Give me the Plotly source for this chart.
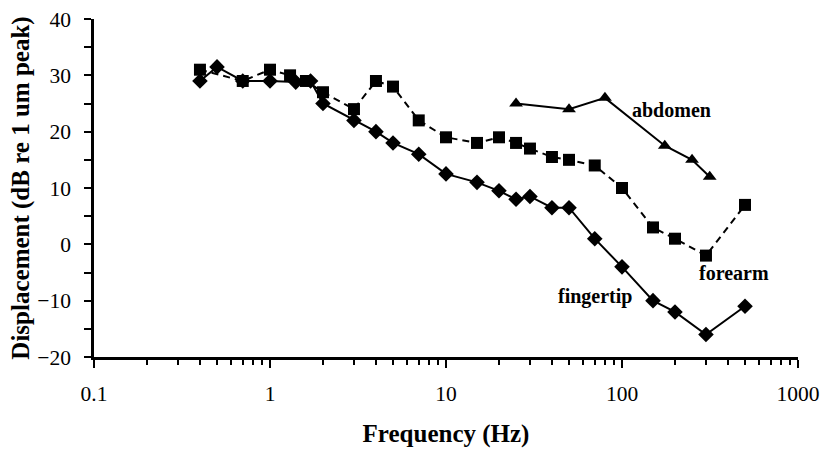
import math
import plotly.graph_objects as go

fingertip_f = [0.4, 0.5, 0.7, 1.0, 1.4, 1.7, 2, 3, 4, 5, 7, 10, 15, 20, 25, 30, 40, 50, 70, 100, 150, 200, 300, 500]
fingertip_v = [29, 31.5, 29, 29, 28.8, 29, 25, 22, 20, 18, 16, 12.5, 11, 9.5, 8, 8.5, 6.5, 6.5, 1, -4, -10, -12, -16, -11]

forearm_f = [0.4, 0.7, 1.0, 1.3, 1.6, 2, 3, 4, 5, 7, 10, 15, 20, 25, 30, 40, 50, 70, 100, 150, 200, 300, 500]
forearm_v = [31, 29, 31, 30, 29, 27, 24, 29, 28, 22, 19, 18, 19, 18, 17, 15.5, 15, 14, 10, 3, 1, -2, 7]

abdomen_f = [25, 50, 80, 175, 250, 315]
abdomen_v = [25, 24, 26, 17.5, 15, 12]

x_ticks = [0.1, 1, 10, 100, 1000]
x_ticktext = ["0.1", "1", "10", "100", "1000"]

labels = [("abdomen", 192, 23.9), ("forearm", 432, -5.0), ("fingertip", 70, -9.3)]

FONT = "Liberation Serif"

fig = go.Figure()
fig.add_trace(go.Scatter(x=fingertip_f, y=fingertip_v, mode="lines+markers",
                         line=dict(color="black", width=2),
                         marker=dict(symbol="diamond", size=12, color="black"),
                         name="fingertip"))
fig.add_trace(go.Scatter(x=forearm_f, y=forearm_v, mode="lines+markers",
                         line=dict(color="black", width=2, dash="7px,5px"),
                         marker=dict(symbol="square", size=12, color="black"),
                         name="forearm"))
fig.add_trace(go.Scatter(x=abdomen_f, y=abdomen_v, mode="lines+markers",
                         line=dict(color="black", width=2),
                         marker=dict(symbol="triangle-up", size=12, color="black"),
                         name="abdomen"))

for text, fx, fy in labels:
    fig.add_annotation(x=math.log10(fx), y=fy, xref="x", yref="y", text="<b>%s</b>" % text,
                       showarrow=False, font=dict(family=FONT, size=20, color="black"))

minor_vals = [m * 10 ** e for e in range(-1, 3) for m in range(2, 10)]

fig.update_layout(
    width=824, height=450,
    margin=dict(l=94, r=26, t=19, b=93, autoexpand=False),
    plot_bgcolor="white", paper_bgcolor="white",
    showlegend=False,
    font=dict(family=FONT, size=21.5, color="black"),
    xaxis=dict(type="log", range=[-1, 3], tickvals=x_ticks, ticktext=x_ticktext,
               automargin=False,
               showgrid=False, zeroline=False, showline=True, linecolor="black", linewidth=2.5,
               ticks="outside", ticklen=8, tickwidth=2, tickcolor="black",
               ticklabelstandoff=7, ticklabeloverflow="allow",
               minor=dict(tickvals=minor_vals, ticks="outside", ticklen=5, tickwidth=2,
                          tickcolor="black", showgrid=False),
               title=dict(text="<b>Frequency (Hz)</b>", font=dict(size=25), standoff=20)),
    yaxis=dict(range=[-20, 40], dtick=10, showgrid=False, zeroline=False,
               automargin=False,
               showline=True, linecolor="black", linewidth=2.5,
               ticks="outside", ticklen=7, tickwidth=2, tickcolor="black",
               ticklabelstandoff=9, ticklabeloverflow="allow",
               minor=dict(dtick=5, ticks="outside", ticklen=7, tickwidth=2,
                          tickcolor="black", showgrid=False),
               title=dict(text="<b>Displacement (dB re 1 um peak)</b>", font=dict(size=25), standoff=1)),
)

fig.write_html("out.html", config={"displayModeBar": False},
               post_script="document.body.style.margin='0px';")
